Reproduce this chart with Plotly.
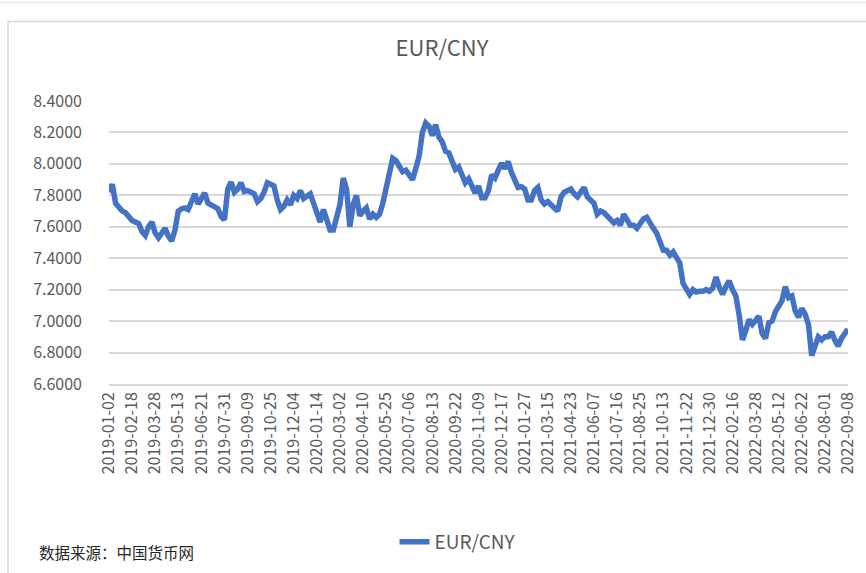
import numpy as np
import pandas as pd
import plotly.graph_objects as go

# Tick labels shown on the category axis (every 28 trading days)
tick_dates = [
    "2019-01-02", "2019-02-18", "2019-03-28", "2019-05-13", "2019-06-21", "2019-07-31",
    "2019-09-09", "2019-10-25", "2019-12-04", "2020-01-14", "2020-03-02", "2020-04-10",
    "2020-05-25", "2020-07-06", "2020-08-13", "2020-09-22", "2020-11-09", "2020-12-17",
    "2021-01-27", "2021-03-15", "2021-04-23", "2021-06-07", "2021-07-16", "2021-08-25",
    "2021-10-13", "2021-11-22", "2021-12-30", "2022-02-16", "2022-03-28", "2022-05-12",
    "2022-06-22", "2022-08-01", "2022-09-08",
]

# EUR/CNY values (7 samples per tick interval)
rate = [
    7.82, 7.87, 7.75, 7.72, 7.70, 7.69, 7.665,
    7.64, 7.63, 7.62, 7.57, 7.545, 7.60, 7.63,
    7.56, 7.53, 7.56, 7.59, 7.54, 7.51, 7.58,
    7.70, 7.715, 7.72, 7.71, 7.77, 7.81, 7.745,
    7.785, 7.815, 7.75, 7.74, 7.73, 7.715, 7.665,
    7.645, 7.84, 7.885, 7.82, 7.84, 7.88, 7.825,
    7.83, 7.815, 7.81, 7.76, 7.78, 7.82, 7.88,
    7.87, 7.86, 7.77, 7.71, 7.73, 7.77, 7.74,
    7.80, 7.78, 7.83, 7.78, 7.80, 7.81, 7.75,
    7.69, 7.63, 7.71, 7.645, 7.58, 7.58, 7.67,
    7.74, 7.91, 7.84, 7.60, 7.74, 7.80, 7.67,
    7.70, 7.72, 7.65, 7.68, 7.66, 7.68, 7.75,
    7.84, 7.94, 8.035, 8.02, 7.99, 7.95, 7.96,
    7.93, 7.90, 7.97, 8.05, 8.20, 8.26, 8.24,
    8.18, 8.25, 8.17, 8.14, 8.08, 8.07, 8.01,
    7.965, 7.98, 7.93, 7.88, 7.905, 7.85, 7.815,
    7.86, 7.785, 7.785, 7.83, 7.93, 7.91, 7.96,
    8.005, 7.97, 8.015, 7.945, 7.90, 7.85, 7.855,
    7.84, 7.77, 7.77, 7.83, 7.85, 7.77, 7.745,
    7.76, 7.745, 7.72, 7.70, 7.79, 7.82, 7.83,
    7.84, 7.81, 7.79, 7.82, 7.85, 7.79, 7.77,
    7.75, 7.68, 7.70, 7.69, 7.67, 7.64, 7.625,
    7.64, 7.61, 7.68, 7.64, 7.61, 7.61, 7.59,
    7.62, 7.65, 7.66, 7.62, 7.59, 7.56, 7.495,
    7.45, 7.45, 7.42, 7.44, 7.405, 7.37, 7.24,
    7.20, 7.17, 7.20, 7.185, 7.19, 7.19, 7.20,
    7.19, 7.21, 7.28, 7.215, 7.17, 7.22, 7.255,
    7.20, 7.16, 7.04, 6.88, 6.94, 7.01, 6.98,
    7.01, 7.03, 6.92, 6.89, 6.99, 7.00, 7.06,
    7.10, 7.13, 7.22, 7.15, 7.16, 7.065, 7.025,
    7.08, 7.045, 6.98, 6.78, 6.835, 6.90, 6.88,
    6.90, 6.90, 6.93, 6.88, 6.84, 6.89, 6.92,
    6.95,
]

# Category dates: each tick date plus six business days inside each interval
dates = []
for a, b in zip(tick_dates[:-1], tick_dates[1:]):
    days = pd.bdate_range(a, b)[:-1]
    for n in range(7):
        dates.append(days[int(round(n * len(days) / 7))].strftime("%Y-%m-%d"))
dates.append(tick_dates[-1])

L, R, T, B = 109, 848, 101, 386
W, H = R - L, B - T
def px(x):
    return (x - L) / W
def py(y):
    return (B - y) / H

fig = go.Figure()
fig.add_trace(go.Scatter(
    x=dates, y=rate, mode="lines", name="EUR/CNY",
    line=dict(color="#4472C4", width=5.5),
))

grey = "#595959"
fig.update_layout(
    width=866, height=573,
    margin=dict(l=L, r=866 - R, t=T, b=573 - B),
    paper_bgcolor="white", plot_bgcolor="white",
    font=dict(family="Noto Sans CJK SC", color=grey),
    title=dict(text="EUR/CNY", x=442 / 866, xanchor="center", y=1 - 48 / 573, yanchor="middle",
               font=dict(size=22, color=grey)),
    showlegend=True,
    legend=dict(orientation="h", x=px(458), xanchor="center", y=py(545), yanchor="middle",
                font=dict(size=19, color=grey), bgcolor="rgba(0,0,0,0)"),
    xaxis=dict(type="category", range=[0, len(dates) - 1], tickmode="array",
               tickvals=tick_dates, ticktext=tick_dates, tickangle=-90,
               tickfont=dict(size=16, color=grey), showgrid=False,
               showline=True, linecolor="#d9d9d9", linewidth=1.5, ticks="",
               automargin=False),
    yaxis=dict(range=[6.6, 8.4], tickmode="linear", tick0=6.6, dtick=0.2, tickformat=".4f",
               tickfont=dict(size=16, color=grey), showgrid=True, gridcolor="#d9d9d9",
               gridwidth=1.5, zeroline=False, showline=False, ticks="",
               ticklabelstandoff=26, automargin=False),
)

fig.add_shape(type="rect", xref="paper", yref="paper",
              x0=px(8), x1=px(880), y0=py(590), y1=py(21),
              line=dict(color="#d9d9d9", width=1.5), fillcolor="rgba(0,0,0,0)", layer="below")
fig.add_shape(type="rect", xref="paper", yref="paper",
              x0=px(0), x1=px(866), y0=py(3), y1=py(0),
              line=dict(width=0), fillcolor="#f2f2f2", layer="below")

fig.add_annotation(text="数据来源：中国货币网", xref="paper", yref="paper",
                   x=px(37), y=py(555), xanchor="left", yanchor="middle", showarrow=False,
                   font=dict(size=15.5, color="#262626", family="Noto Sans CJK SC"))

fig.write_html("out.html", config={"displayModeBar": False},
               post_script="document.body.style.margin='0px';")
